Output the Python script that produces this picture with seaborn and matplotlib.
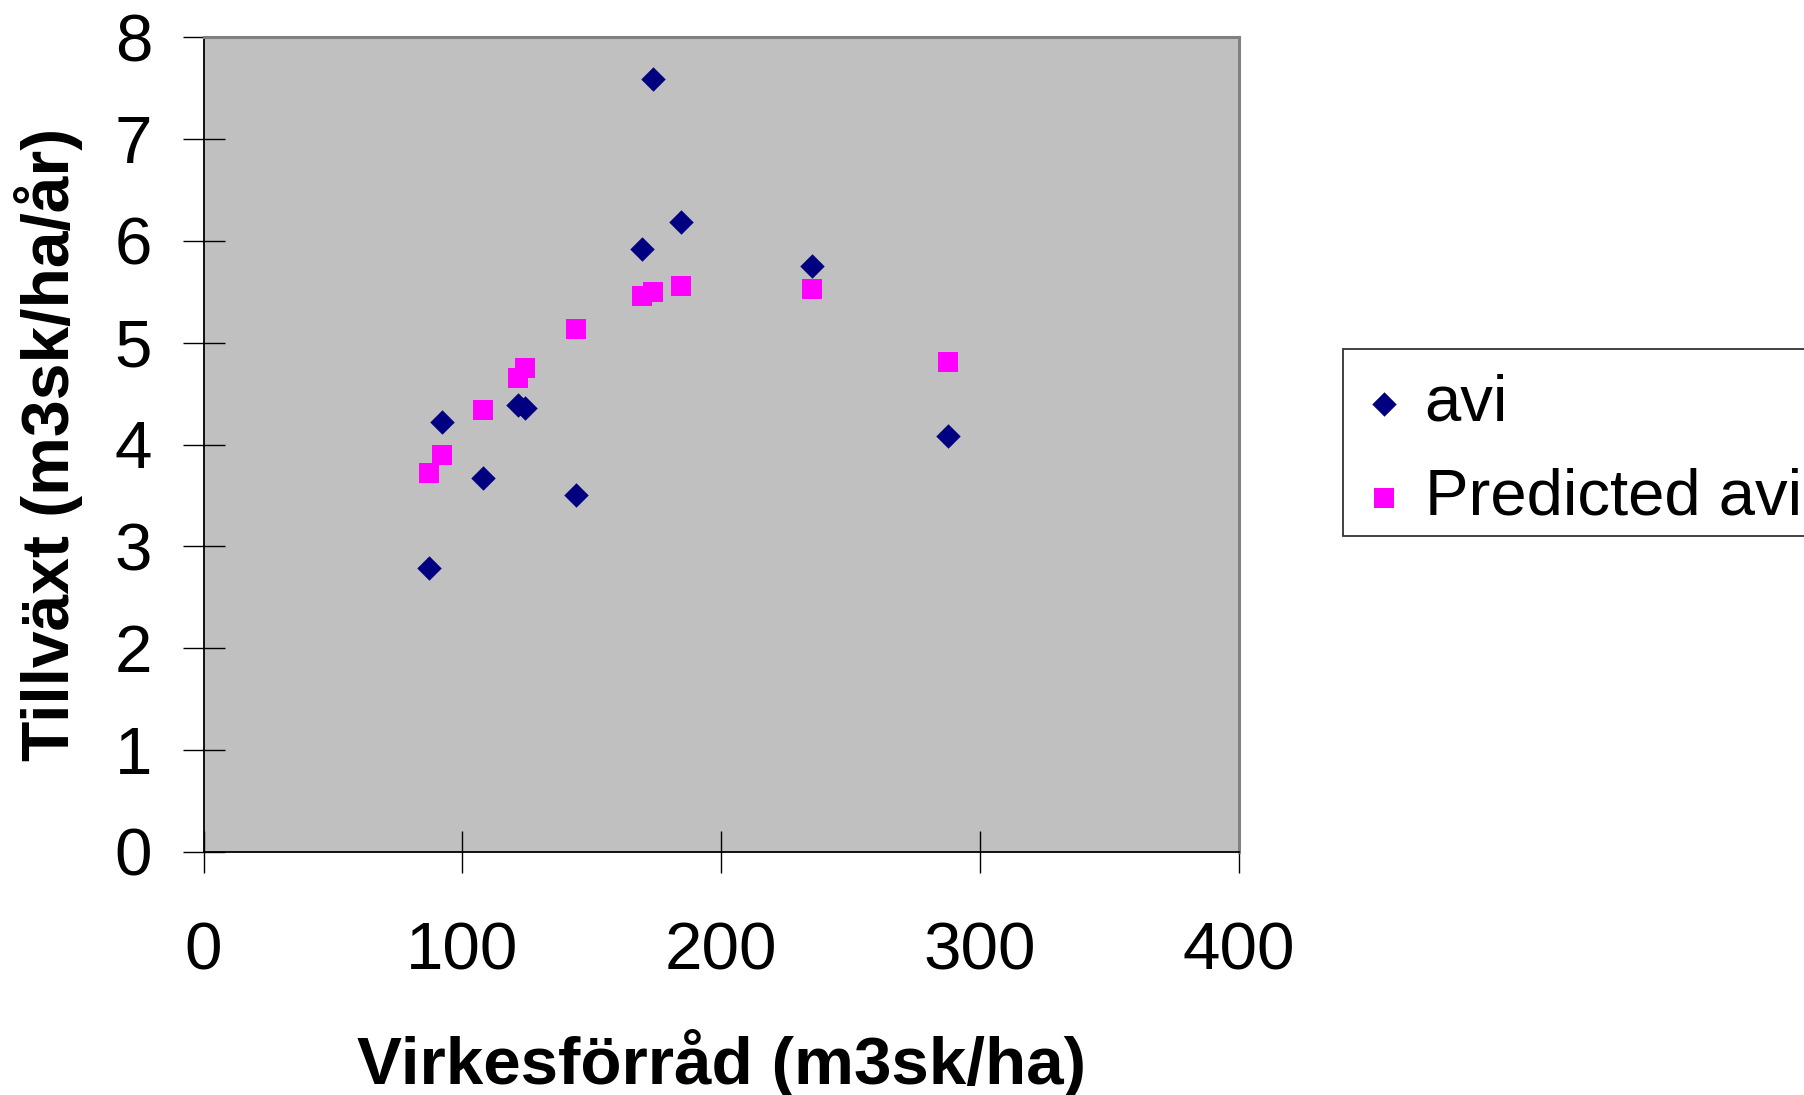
import pandas as pd
import numpy as np
import matplotlib.pyplot as plt
from matplotlib.patches import Rectangle
import seaborn as sns

# values
virkesforrad = [87, 92, 108, 121.5, 124, 144, 169.5, 173.5, 184.5, 235, 287.5]
avi = [2.79, 4.22, 3.67, 4.39, 4.36, 3.50, 5.92, 7.59, 6.19, 5.75, 4.08]
predicted_avi = [3.72, 3.90, 4.34, 4.65, 4.75, 5.13, 5.46, 5.50, 5.56, 5.53, 4.81]

x_ticks = [0, 100, 200, 300, 400]
y_ticks = [0, 1, 2, 3, 4, 5, 6, 7, 8]

df = pd.DataFrame({
    "Virkesforrad": virkesforrad,
    "avi": avi,
    "Predicted avi": predicted_avi,
})

sns.set_theme(style="white")
plt.rcParams['font.family'] = ['Liberation Sans', 'DejaVu Sans']

fig = plt.figure(figsize=(18.04, 10.95), dpi=100)
W, H = 1804, 1095
left, right, top, bottom = 203.5, 1239, 37.3, 851.7
ax = fig.add_axes([left / W, 1 - bottom / H, (right - left) / W, (bottom - top) / H])
ax.set_facecolor("#C0C0C0")

sns.scatterplot(data=df, x="Virkesforrad", y="avi", marker="D", s=155,
                color="#000080", linewidth=0, label="avi", ax=ax, zorder=3)
sns.scatterplot(data=df, x="Virkesforrad", y="Predicted avi", marker="s", s=215,
                color="#FF00FF", linewidth=0, label="Predicted avi", ax=ax, zorder=3)

ax.set_xlim(0, 400)
ax.set_ylim(0, 8)
ax.set_xticks(x_ticks)
ax.set_yticks(y_ticks)
ax.tick_params(axis="both", direction="inout", length=30, width=1, color="black",
               labelsize=48.5, labelcolor="black")
ax.tick_params(axis="x", pad=35)
ax.tick_params(axis="y", pad=22)
ax.xaxis.set_ticks_position("bottom")
ax.yaxis.set_ticks_position("left")

for side in ["left", "bottom"]:
    ax.spines[side].set_color("black")
    ax.spines[side].set_linewidth(1.3)
for side in ["top", "right"]:
    ax.spines[side].set_color("#808080")
    ax.spines[side].set_linewidth(2.2)

ax.set_xlabel("Virkesförråd (m3sk/ha)", fontsize=48.5, fontweight="bold",
              color="black", va="center")
ax.set_ylabel("Tillväxt (m3sk/ha/år)", fontsize=47.5, fontweight="bold",
              color="black", va="center")
ax.xaxis.set_label_coords(0.5, -0.26)
ax.yaxis.set_label_coords(-0.150, 0.5)

# legend box runs off the right edge of the figure like in the original
leg_top, leg_bottom, leg_left = 349.3, 536.0, 1343.3
leg = ax.legend(loc="upper left", bbox_to_anchor=(leg_left / W, 1 - leg_top / H),
                bbox_transform=fig.transFigure, fontsize=47, frameon=False,
                borderpad=0.375, borderaxespad=0,
                handlelength=0.50, handletextpad=0.37, labelspacing=0.52)
for t in leg.get_texts():
    t.set_color("black")

box = Rectangle((leg_left / W, 1 - leg_bottom / H), (W + 20 - leg_left) / W,
                (leg_bottom - leg_top) / H, transform=fig.transFigure,
                facecolor="white", edgecolor="#333333", linewidth=1.3, zorder=-1)
fig.add_artist(box)

plt.savefig("out.png", dpi=100)
